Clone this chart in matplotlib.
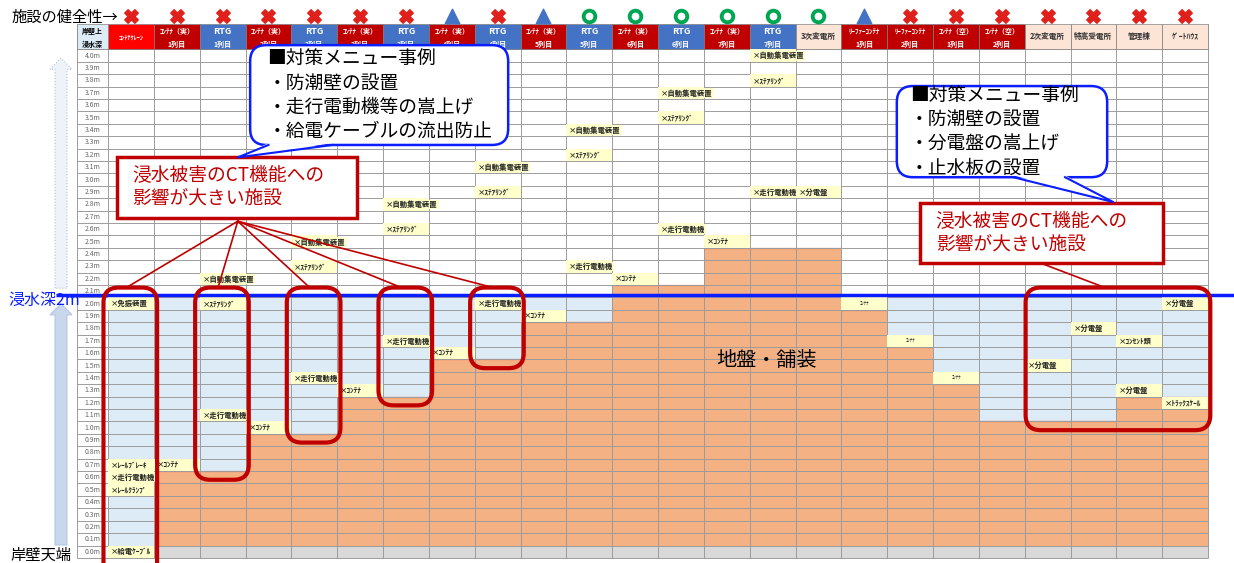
import numpy as np
import matplotlib
matplotlib.use("Agg")
import matplotlib.pyplot as plt
from matplotlib.patches import FancyBboxPatch, Rectangle, Polygon

plt.rcParams['font.family'] = ['Noto Sans CJK JP', 'DejaVu Sans']

# 施設（列）
head1 = ["ｺﾝﾃﾅｸﾚｰﾝ", "ｺﾝﾃﾅ（実）", "RTG", "ｺﾝﾃﾅ（実）", "RTG", "ｺﾝﾃﾅ（実）", "RTG",
         "ｺﾝﾃﾅ（実）", "RTG", "ｺﾝﾃﾅ（実）", "RTG", "ｺﾝﾃﾅ（実）", "RTG", "ｺﾝﾃﾅ（実）", "RTG",
         "3次変電所", "ﾘｰﾌｧｰｺﾝﾃﾅ", "ﾘｰﾌｧｰｺﾝﾃﾅ", "ｺﾝﾃﾅ（空）", "ｺﾝﾃﾅ（空）",
         "2次変電所", "特高受電所", "管理棟", "ｹﾞｰﾄﾊｳｽ"]
head2 = ["", "1列目", "1列目", "2列目", "2列目", "3列目", "3列目", "4列目", "4列目",
         "5列目", "5列目", "6列目", "6列目", "7列目", "7列目", "",
         "1列目", "2列目", "1列目", "2列目", "", "", "", ""]
kind = ["crane"] + ["cont", "rtg"] * 7 + ["sub"] + ["cont"] * 4 + ["sub"] * 4
# 施設の健全性  x:✖  t:△  o:○
health = ["x"] * 7 + ["t", "x", "t"] + ["o"] * 6 + ["t"] + ["x"] * 7
# 地盤・舗装の高さ (m)
ground = [0.0, 0.6, 0.6, 0.9, 0.9, 1.2, 1.2, 1.5, 1.5, 1.8, 1.8, 2.1, 2.1, 2.4, 2.4,
          2.4, 1.9, 1.6, 1.3, 1.0, 1.0, 1.0, 1.2, 1.2]

# 浸水する設備（列, 高さ, 名称）
item_col = [0, 0, 0, 0, 0, 1,
            2, 2, 2, 3, 4, 4, 4, 5, 6, 6, 6, 7, 8, 8, 8, 9, 10, 10, 10,
            11, 12, 12, 12, 13, 14, 14, 14, 15,
            20, 21, 22, 22, 23, 23]
item_h = [2.0, 0.7, 0.6, 0.5, 0.0, 0.7,
          2.2, 2.0, 1.1, 1.0, 2.5, 2.3, 1.4, 1.3, 2.8, 2.6, 1.7, 1.6, 3.1, 2.9, 2.0, 1.9, 3.4, 3.2, 2.3,
          2.2, 3.7, 3.5, 2.6, 2.5, 4.0, 3.8, 2.9, 2.9,
          1.5, 1.8, 1.7, 1.3, 2.0, 1.2]
item_name = ["×免振装置", "×ﾚｰﾙﾌﾞﾚｰｷ", "×走行電動機", "×ﾚｰﾙｸﾗﾝﾌﾟ", "×給電ｹｰﾌﾞﾙ", "×ｺﾝﾃﾅ",
             "×自動集電装置", "×ｽﾃｱﾘﾝｸﾞ", "×走行電動機", "×ｺﾝﾃﾅ",
             "×自動集電装置", "×ｽﾃｱﾘﾝｸﾞ", "×走行電動機", "×ｺﾝﾃﾅ",
             "×自動集電装置", "×ｽﾃｱﾘﾝｸﾞ", "×走行電動機", "×ｺﾝﾃﾅ",
             "×自動集電装置", "×ｽﾃｱﾘﾝｸﾞ", "×走行電動機", "×ｺﾝﾃﾅ",
             "×自動集電装置", "×ｽﾃｱﾘﾝｸﾞ", "×走行電動機",
             "×ｺﾝﾃﾅ", "×自動集電装置", "×ｽﾃｱﾘﾝｸﾞ", "×走行電動機", "×ｺﾝﾃﾅ",
             "×自動集電装置", "×ｽﾃｱﾘﾝｸﾞ", "×走行電動機", "×分電盤",
             "×分電盤", "×分電盤", "×ｺﾝｾﾝﾄ類", "×分電盤", "×分電盤", "×ﾄﾗｯｸｽｹｰﾙ"]
# リーファー・空コンテナ（小さい文字）
small_col = [16, 17, 18]
small_h = [2.0, 1.7, 1.4]

depths = np.round(np.arange(0, 4.01, 0.1), 1)
flood = 2.0

head_fc = {"crane": "#FF0000", "cont": "#C00000", "rtg": "#4472C4", "sub": "#FCE4D6"}
head_tc = {"crane": "white", "cont": "white", "rtg": "white", "sub": "#333333"}
RED = "#C00000"
BLUE = "#0A1EFF"

fig = plt.figure(figsize=(12.34, 5.63), dpi=100)
ax = fig.add_axes([0, 0, 1, 1])
ax.set_xlim(-2.858, 24.067)
ax.set_ylim(-0.0911, 4.449)
ax.axis("off")

cols = np.arange(len(head1))
g = np.array(ground)
asp = 45.83 / 124.0  # 1列の幅と0.1mの高さの比 (角丸用)

# 地盤・舗装
ax.bar(cols, g, bottom=0.05, width=1, color="#F4B183", zorder=1)
ax.hlines(g[g > 0] + 0.05, cols[g > 0] - 0.5, cols[g > 0] + 0.5, color="#E8705A", lw=0.9, zorder=2)
# 浸水範囲
blue_h = np.clip(flood + 0.05 - (g + 0.05), 0, None)
ax.bar(cols, blue_h, bottom=g + 0.05, width=1, color="#DDEBF7", zorder=1)
# 岸壁天端 0.0m
ax.bar(cols[1:], 0.1, bottom=-0.05, width=1, color="#D9D9D9", zorder=1)

# グリッド
lx0 = -1.18
for d in depths:
    ax.hlines(d - 0.05, lx0, cols[-1] + 0.5, color="#9C9C9C", lw=0.7, zorder=2)
ax.hlines(depths[-1] + 0.05, lx0, cols[-1] + 0.5, color="#9C9C9C", lw=0.7, zorder=2)
ax.vlines(np.append(cols - 0.5, [lx0, cols[-1] + 0.5]), -0.05, 4.255, color="#9C9C9C", lw=0.7, zorder=2)

# 行ラベル
for d in depths:
    ax.text(-0.84, d, f"{d:.1f}m", ha="center", va="center", fontsize=5, color="#666666", zorder=3)

# 見出し
ax.bar(cols, 0.205, bottom=4.05, width=1, color=[head_fc[k] for k in kind],
       edgecolor="#808080", lw=0.5, zorder=3)
ax.add_patch(Rectangle((lx0, 4.05), -0.5 - lx0, 0.205, fc="#DDEBF7", ec="#808080", lw=0.5, zorder=3))
ax.text(-0.84, 4.197, "岸壁上", ha="center", va="center", fontsize=5, fontweight="bold", zorder=4)
ax.text(-0.84, 4.092, "浸水深", ha="center", va="center", fontsize=5, fontweight="bold", zorder=4)
for c, t1, t2, k in zip(cols, head1, head2, kind):
    fs = 6.5 if t1 == "RTG" else 5
    if t2:
        ax.text(c, 4.197, t1, ha="center", va="center", fontsize=fs, fontweight="bold", color=head_tc[k], zorder=4)
        ax.text(c, 4.092, t2, ha="center", va="center", fontsize=5, fontweight="bold", color=head_tc[k], zorder=4)
    else:
        ax.text(c, 4.152, t1, ha="center", va="center", fontsize=5.5 if k == "sub" else 4.5,
                fontweight="bold", color=head_tc[k], zorder=4)

# 施設の健全性
hx = np.array(health)
ax.scatter(cols[hx == "x"], np.full((hx == "x").sum(), 4.32), marker="X", s=95, color="#E0201B", zorder=5)
ax.scatter(cols[hx == "t"], np.full((hx == "t").sum(), 4.32), marker="^", s=110, color="#4472C4", zorder=5)
ax.scatter(cols[hx == "o"], np.full((hx == "o").sum(), 4.32), marker="o", s=70, facecolor="white",
           edgecolor="#00A651", lw=2.8, zorder=5)

# 設備ラベル
for c, h, name in zip(item_col, item_h, item_name):
    ax.bar(c, 0.1, bottom=h - 0.05, width=1, color="#FFFFCC", zorder=3)
    ax.text(c - 0.44, h, name, ha="left", va="center", fontsize=5.3, fontweight="bold", color="#222222",
            zorder=4, bbox=dict(boxstyle="square,pad=0.15", fc="#FFFFCC", ec="none"))
for c, h in zip(small_col, small_h):
    ax.bar(c, 0.1, bottom=h - 0.05, width=1, color="#FFFFCC", zorder=3)
    ax.text(c, h, "ｺﾝﾃﾅ", ha="center", va="center", fontsize=3.5, color="#222222", zorder=4)

# 浸水深2m
ax.hlines(flood + 0.07, -1.64, 24.1, color=BLUE, lw=2.5, zorder=5)

# 左側の矢印
def arrow(x, y0, y1, fc, ec, ls):
    sw, hw, hl = 0.13, 0.24, 0.09
    pts = [(x - sw, y0), (x - sw, y1 - hl), (x - hw, y1 - hl), (x, y1),
           (x + hw, y1 - hl), (x + sw, y1 - hl), (x + sw, y0)]
    ax.add_patch(Polygon(pts, closed=True, fc=fc, ec=ec, ls=ls, lw=0.8, zorder=2))

arrow(-1.527, 2.125, 3.98, "#EEF3FA", "#AFC3DF", ":")
arrow(-1.527, 0.054, 2.0, "#C9D7EC", "#B3C6E3", "-")

ax.text(-2.60, 4.31, "施設の健全性→", ha="left", va="center", fontsize=11)
ax.text(-2.68, 2.03, "浸水深2m", ha="left", va="center", fontsize=11.5, color=BLUE)
ax.text(-2.63, -0.027, "岸壁天端", ha="left", va="center", fontsize=11)
ax.text(13.86, 1.545, "地盤・舗装", ha="center", va="center", fontsize=14.5)

# 影響が大きい施設の枠
box_cols = [0, 2, 4, 6, 8]
for c in box_cols:
    bot = g[c] - 0.02 if c > 0 else -0.3
    ax.add_patch(FancyBboxPatch((c - 0.6, bot), 1.17, 2.13 - bot, boxstyle="round,pad=0,rounding_size=0.33",
                                mutation_aspect=asp, fill=False, ec=RED, lw=3, zorder=6))
ax.add_patch(FancyBboxPatch((19.52, 0.98), 4.03, 2.13 - 0.98, boxstyle="round,pad=0,rounding_size=0.33",
                            mutation_aspect=asp, fill=False, ec=RED, lw=3, zorder=6))

# 赤い吹き出し
msg = "浸水被害のCT機能への\n影響が大きい施設"
for c in box_cols:
    ax.plot([2.33, c - 0.1], [2.665, 2.13], color=RED, lw=1.2, zorder=6)
ax.add_patch(Rectangle((-0.305, 2.69), 5.235, 0.49, fc="white", ec=RED, lw=2.5, zorder=7))
ax.text(0.02, 2.935, msg, ha="left", va="center", fontsize=13.5, color=RED, linespacing=1.15, zorder=8)
ax.plot([19.83, 21.25], [2.33, 2.13], color=RED, lw=1.2, zorder=6)
ax.add_patch(Rectangle((17.22, 2.33), 5.3, 0.48, fc="white", ec=RED, lw=2.5, zorder=7))
ax.text(17.56, 2.57, msg, ha="left", va="center", fontsize=13.5, color=RED, linespacing=1.15, zorder=8)

# 青い吹き出し（対策メニュー）
def callout(x, y, w, h, tail, text, tx):
    ax.add_patch(FancyBboxPatch((x, y), w, h, boxstyle="round,pad=0,rounding_size=0.35",
                                mutation_aspect=asp, fc="white", ec=BLUE, lw=1.8, zorder=7))
    (b1, b2, tip) = tail
    ax.add_patch(Polygon([(b1, y + 0.015), tip, (b2, y + 0.015)], closed=True, fc="white", ec="none", zorder=8))
    ax.plot([b1, tip[0], b2], [y, tip[1], y], color=BLUE, lw=1.5, zorder=8)
    ax.text(tx, y + h / 2, text, ha="left", va="center", fontsize=13.5, linespacing=1.2, zorder=9)

callout(2.60, 3.28, 5.63, 0.805, (3.0, 4.4, (2.33, 3.18)),
        "■対策メニュー事例\n・防潮壁の設置\n・走行電動機等の嵩上げ\n・給電ケーブルの流出防止", 2.98)
callout(16.71, 3.02, 4.59, 0.735, (19.25, 20.38, (21.43, 2.82)),
        "■対策メニュー事例\n・防潮壁の設置\n・分電盤の嵩上げ\n・止水板の設置", 17.0)

fig.savefig("out.png", dpi=100)
